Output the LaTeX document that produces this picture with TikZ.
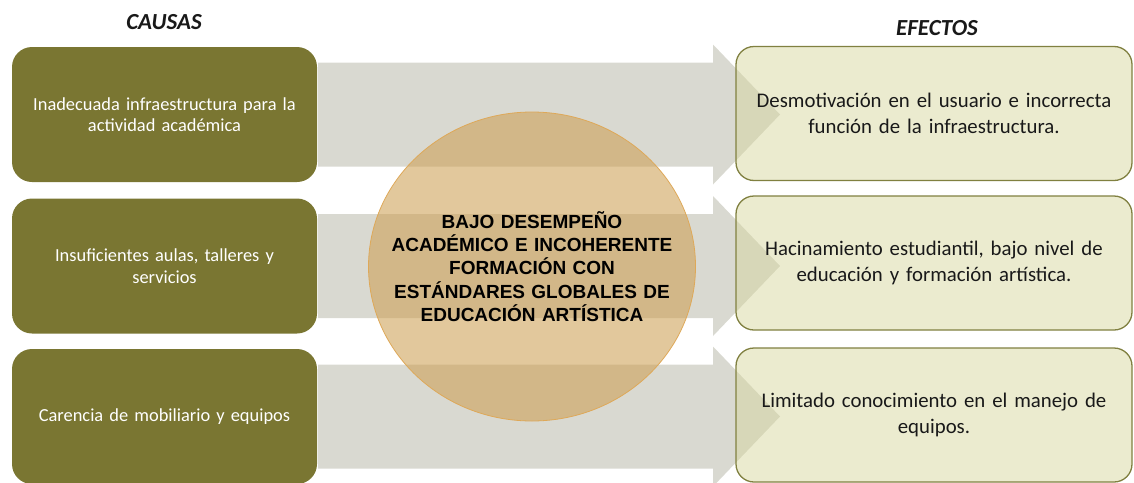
\documentclass[tikz,border=0pt]{standalone}
\usepackage{fontspec}
\setmainfont{Carlito}
\newfontfamily\arialfont{Liberation Sans}
\usetikzlibrary{shapes.geometric,calc}
\definecolor{CausaColor}{RGB}{122,118,50}
\definecolor{EfectoColor}{RGB}{215,215,160}
\definecolor{EfectoBorde}{RGB}{128,128,64}
\definecolor{FlechaColor}{RGB}{217,217,209}
\definecolor{ProblemaColor}{RGB}{205,160,84}
\definecolor{ProblemaBorde}{RGB}{222,168,88}

\begin{document}
\begin{tikzpicture}[x=1pt,y=-1pt,
  titulo/.style={font=\fontsize{23}{26}\selectfont\bfseries\itshape,text=black!90},
  causa/.style={rectangle,rounded corners=20pt,fill=CausaColor,text=white,inner sep=0pt,
    minimum width=305pt,minimum height=135pt,text width=295pt,align=center,
    font=\fontsize{18.4}{21.5}\selectfont},
  efecto/.style={rectangle,rounded corners=18pt,fill=EfectoColor,fill opacity=0.5,
    text opacity=1,draw=EfectoBorde,draw opacity=1,line width=1.3pt,inner sep=0pt,
    minimum width=396pt,minimum height=134pt,text width=385pt,align=center,
    text=black!90,font=\fontsize{20.8}{26}\selectfont},
  flecha/.style={fill=FlechaColor},
  problema/.style={ellipse,fill=ProblemaColor,fill opacity=0.58,
    draw=ProblemaBorde,draw opacity=1,line width=0.8pt,inner sep=0pt,
    minimum width=327pt,minimum height=309pt},
  problematexto/.style={inner sep=0pt,text width=320pt,align=center,
    font=\arialfont\bfseries\fontsize{19}{23.3}\selectfont}]
\useasboundingbox (0,0) rectangle (1134,482);
% titulos
\node[titulo] (causas) at (164,22) {CAUSAS};
\node[titulo] (efectos) at (937,28) {EFECTOS};
% cajas
\node[causa] (causa1) at (164.5,114.5) {Inadecuada infraestructura para la\\actividad académica};
\node[causa] (causa2) at (164.5,266) {Insuficientes aulas, talleres y\\servicios};
\node[causa] (causa3) at (164.5,416.5) {Carencia de mobiliario y equipos};
\path (934,113.5) coordinate (e1) (934,263) coordinate (e2) (934,415) coordinate (e3);
% flechas
\foreach \i in {1,2,3} {
  \fill[flecha] ($(causa\i.east)+(1,-52)$)
    -- ($(e\i |- causa\i.east)+(-221,-52)$) -- ($(e\i |- causa\i.east)+(-221,-70)$)
    -- ($(e\i |- causa\i.east)+(-154,0)$)
    -- ($(e\i |- causa\i.east)+(-221,70)$) -- ($(e\i |- causa\i.east)+(-221,52)$)
    -- ($(causa\i.east)+(1,52)$) -- cycle;
}
\node[efecto] (efecto1) at (e1) {Desmotivación en el usuario e incorrecta\\función de la infraestructura.};
\node[efecto] (efecto2) at (e2) {Hacinamiento estudiantil, bajo nivel de\\educación y formación artística.};
\node[efecto] (efecto3) at (e3) {Limitado conocimiento en el manejo de\\equipos.};
% problema central
\node[problema] (problema) at (532,266.5) {};
\node[problematexto] (problemat) at (problema) {BAJO DESEMPEÑO\\ACADÉMICO E INCOHERENTE\\FORMACIÓN CON\\ESTÁNDARES GLOBALES DE\\EDUCACIÓN ARTÍSTICA};
\end{tikzpicture}
\end{document}
